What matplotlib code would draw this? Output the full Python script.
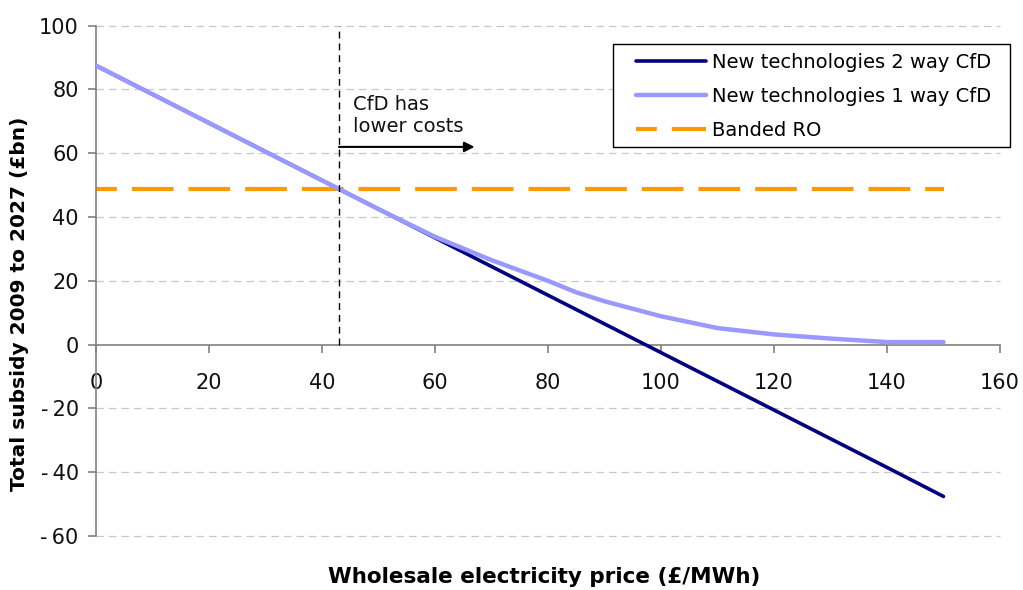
import matplotlib
matplotlib.use("Agg")
import matplotlib.pyplot as plt
from matplotlib.patches import Rectangle

# Wholesale price (£/MWh) and total subsidy 2009-2027 (£bn)
price_2way = [0, 10, 20, 30, 40, 50, 60, 70, 80, 90, 100, 110, 120, 130, 140, 150]
subsidy_2way = [87.5, 78.5, 69.5, 60.5, 51.5, 42.5, 33.5, 24.5, 15.5, 6.5,
                -2.5, -11.5, -20.5, -29.5, -38.5, -47.6]

price_1way = [0, 10, 20, 30, 40, 50, 60, 70, 80, 85, 90, 100, 110, 120, 130, 140, 150]
subsidy_1way = [87.5, 78.5, 69.5, 60.5, 51.5, 42.5, 33.8, 26.5, 20.0, 16.4, 13.6,
                8.9, 5.2, 3.2, 1.9, 0.8, 0.8]

price_ro = [0, 150]
subsidy_ro = [48.7, 48.7]

crossover_price = 43
arrow_end_price = 67
arrow_level = 62

series_labels = ["New technologies 2 way CfD", "New technologies 1 way CfD", "Banded RO"]
x_ticks = [0, 20, 40, 60, 80, 100, 120, 140, 160]
y_ticks = [-60, -40, -20, 0, 20, 40, 60, 80, 100]

plt.rcParams["font.family"] = ["DejaVu Sans"]

fig = plt.figure(figsize=(10.23, 5.9), dpi=100)
ax = fig.add_axes([96 / 1023, 1 - 536 / 590, 904 / 1023, 510.3 / 590])

ax.set_xlim(0, 160)
ax.set_ylim(-60, 100)

# Horizontal grid
for yv in y_ticks:
    if yv != 0:
        ax.axhline(yv, color="#c8c8c8", lw=0.9, dashes=(6, 4), zorder=0, clip_on=False)

l2, = ax.plot(price_2way, subsidy_2way, color="#000080", lw=2.6, zorder=3,
              solid_capstyle="round")
l1, = ax.plot(price_1way, subsidy_1way, color="#9999ff", lw=3.2, zorder=4,
              solid_capstyle="round")
lr, = ax.plot(price_ro, subsidy_ro, color="#ff9900", lw=3.0, zorder=2,
              linestyle=(5.0, (10, 3.6)), dash_capstyle="butt")

# Crossover marker and annotation
ax.plot([crossover_price, crossover_price], [0, 100], color="black", lw=1.0,
        dashes=(5, 3.5), zorder=5)
ax.annotate("", xy=(arrow_end_price, arrow_level), xytext=(crossover_price, arrow_level),
            arrowprops=dict(arrowstyle="-|>", color="black", lw=1.5,
                            mutation_scale=15, shrinkA=0, shrinkB=0), zorder=6)
ax.text(crossover_price + 2.5, 65.5, "CfD has\nlower costs", fontsize=14,
        ha="left", va="bottom", linespacing=1.2, color="#111111")

# Spines: left at x=0, bottom at y=0
for s in ["top", "right"]:
    ax.spines[s].set_visible(False)
ax.spines["left"].set_color("#808080")
ax.spines["bottom"].set_color("#808080")
ax.spines["bottom"].set_position(("data", 0))
ax.spines["left"].set_linewidth(1.2)
ax.spines["bottom"].set_linewidth(1.2)

ax.set_xticks(x_ticks)
ax.set_yticks(y_ticks)
ax.set_yticklabels([f"{v}" if v >= 0 else f"-\u2009{abs(v)}" for v in y_ticks])
ax.tick_params(axis="both", direction="out", length=5.5, width=1.2, color="#808080",
               labelsize=15, labelcolor="#111111")
ax.tick_params(axis="x", pad=15)
ax.tick_params(axis="y", pad=7)

fig.text(544 / 1023, 1 - 577 / 590, "Wholesale electricity price (£/MWh)", fontsize=15.5,
         fontweight="bold", ha="center", va="center")
fig.text(20 / 1023, 1 - 304 / 590, "Total subsidy 2009 to 2027 (£bn)", fontsize=14.5,
         fontweight="bold", ha="center", va="center", rotation=90)

# Legend with a hand-drawn frame
frame_x0 = (613 - 96) / 904
frame_x1 = (1010 - 96) / 904
frame_y1 = (536 - 44) / 510.3
frame_y0 = (536 - 147) / 510.3
ax.add_patch(Rectangle((frame_x0, frame_y0), frame_x1 - frame_x0, frame_y1 - frame_y0,
                       transform=ax.transAxes, facecolor="white", edgecolor="black",
                       lw=1.0, zorder=7, clip_on=False))
leg = ax.legend([l2, l1, lr], series_labels, loc="upper left",
                bbox_to_anchor=((636 - 96) / 904 - 0.006, frame_y1 - 0.006),
                frameon=False, fontsize=14, handlelength=3.6, handletextpad=0.3,
                labelspacing=0.78, borderpad=0.3, borderaxespad=0)
leg.set_zorder(8)

fig.savefig("out.png", dpi=100)
